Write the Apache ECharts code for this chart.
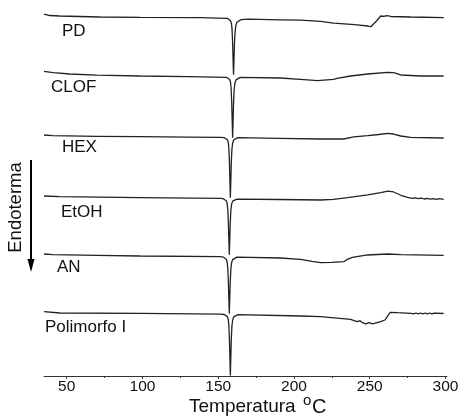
<!DOCTYPE html>
<html>
<head>
<meta charset="utf-8">
<script src="https://cdn.jsdelivr.net/npm/echarts@6/dist/echarts.min.js"></script>
<style>
html,body{margin:0;padding:0;background:#fff;}
#c{width:462px;height:418px;}
</style>
</head>
<body>
<div id="c"></div>
<script>
// ---- data (temperature °C, heat flow in arbitrary offset units) ----
const names = ['PD', 'CLOF', 'HEX', 'EtOH', 'AN', 'Polimorfo I'];
const majorTicks = [50, 100, 150, 200, 250, 300];
const minorTicks = [75, 125, 175, 225, 275];

const PD = [[35,60.33],[38.8,60.08],[45.4,60.0],[71.8,59.83],[98.3,59.78],[138,59.72],[156.1,59.62],[157.1,59.5],[158.1,59.2],[158.7,58.75],[159.1,57.85],[159.5,55.6],[159.8,52.6],[160.1,50.2],[160.4,52.5],[160.7,55.3],[161.1,57.3],[161.6,58.4],[162.3,58.95],[163.6,59.25],[165.1,59.4],[170,59.47],[191,59.36],[204.3,59.3],[217.6,59.12],[226.2,58.82],[240,58.55],[248.7,58.33],[250.7,58.22],[254,59.05],[257.3,60.0],[259.3,59.92],[261.3,60.05],[264,59.92],[277.2,59.83],[298.8,59.72]];
const CLOF = [[35,50.78],[41,50.55],[52,50.33],[70,50.15],[98.3,50.0],[130,49.9],[155.5,49.78],[156.5,49.68],[157.5,49.42],[158.1,48.95],[158.5,48.0],[158.9,45.6],[159.2,42.6],[159.5,39.7],[159.8,42.4],[160.1,45.4],[160.5,47.7],[161,48.8],[161.7,49.35],[163,49.65],[164.5,49.78],[191,49.67],[204.3,49.45],[215.5,49.22],[226,49.45],[228.5,49.6],[237.4,50.0],[248.6,50.33],[261.8,50.62],[265.8,50.55],[270.5,50.17],[283.7,50.0],[298.8,50.0]];
const HEX = [[35,40.17],[40.7,40.05],[70,39.95],[98.3,39.88],[130,39.82],[151.3,39.78],[154,39.72],[155,39.65],[156,39.4],[156.6,38.95],[157,38.0],[157.4,35.6],[157.7,32.6],[158,29.7],[158.3,32.4],[158.6,35.4],[159,37.7],[159.5,38.8],[160.2,39.35],[161.5,39.62],[163,39.72],[190,39.62],[217.6,39.5],[232.8,39.5],[239.4,39.85],[248.6,40.05],[256,40.25],[261.8,40.45],[265.8,40.33],[270.5,40.0],[277,39.78],[298.8,39.67]];
const EtOH = [[35,30.0],[45.4,29.88],[98.3,29.72],[151.3,29.62],[153.3,29.55],[154.3,29.45],[155.3,29.2],[155.9,28.75],[156.3,27.8],[156.7,25.5],[157,22.8],[157.3,20.2],[157.6,22.6],[157.9,25.3],[158.3,27.5],[158.8,28.6],[159.5,29.15],[160.8,29.38],[162.3,29.48],[190,29.42],[217.6,29.33],[226,29.45],[235.4,29.72],[248.6,30.17],[257.3,30.55],[261.9,30.83],[265.8,30.67],[270.5,30.12],[275,29.78],[278,29.6],[280,29.7],[282,29.55],[284,29.65],[286,29.5],[288,29.6],[290,29.48],[292,29.58],[294,29.45],[296,29.55],[298.8,29.45]];
const AN = [[35,20.33],[40.7,20.22],[70,20.1],[98.3,20.0],[151.3,19.88],[153.3,19.82],[154.3,19.72],[155.3,19.47],[155.9,19.0],[156.3,18.0],[156.7,15.7],[157,12.9],[157.3,10.4],[157.6,12.8],[157.9,15.5],[158.3,17.7],[158.8,18.85],[159.5,19.4],[160.8,19.7],[162.3,19.82],[191,19.67],[204.3,19.45],[212,19.1],[217.6,18.88],[225,18.95],[233,19.05],[235.2,19.45],[238.5,19.78],[248.6,20.17],[261.9,20.33],[270.5,20.22],[298.8,20.12]];
const POLI = [[35,10.72],[45.4,10.5],[98.3,10.45],[151.3,10.3],[154,10.25],[155,10.15],[156,9.9],[156.6,9.45],[157,8.5],[157.4,6.1],[157.7,3.1],[158,0.1],[158.3,2.9],[158.6,5.9],[159,8.2],[159.5,9.3],[160.2,9.85],[161.5,10.1],[163,10.22],[204.3,10.0],[217.6,9.88],[237.4,9.45],[239.6,9.22],[241.9,9.05],[243.6,9.22],[245.2,8.88],[247.4,8.67],[249.6,8.88],[251.8,8.67],[257.3,9.05],[260,9.33],[263.5,10.62],[268.4,10.55],[277.2,10.45],[279,10.35],[280.5,10.5],[282,10.35],[283.5,10.5],[285,10.35],[286.5,10.5],[288,10.35],[289.5,10.5],[291,10.35],[292.5,10.48],[298.8,10.42]];
const curves = [PD, CLOF, HEX, EtOH, AN, POLI];

// ---- layout / style ----
const labelPos = [[62,31],[51,87],[62,147],[61,212],[57,267],[45,327]];
const FONT = '"Liberation Sans", Arial, sans-serif';

const chart = echarts.init(document.getElementById('c'), null, {renderer: 'canvas'});

const graphics = names.map((n, i) => ({
  type: 'text', x: labelPos[i][0], y: labelPos[i][1],
  style: {text: n, font: '17px ' + FONT, fill: '#111', verticalAlign: 'middle', align: 'left'}
}));
graphics.push(
  {type: 'text', x: 189, y: 407, style: {text: 'Temperatura', font: '19px ' + FONT, fill: '#111', verticalAlign: 'middle', align: 'left'}},
  {type: 'text', x: 303, y: 400.5, style: {text: 'o', font: '15px ' + FONT, fill: '#111', verticalAlign: 'middle', align: 'left'}},
  {type: 'text', x: 312, y: 407, style: {text: 'C', font: '20px ' + FONT, fill: '#111', verticalAlign: 'middle', align: 'left'}},
  {type: 'text', x: 16, y: 207.5, rotation: Math.PI / 2, style: {text: 'Endoterma', font: '18.5px ' + FONT, fill: '#111', verticalAlign: 'middle', align: 'center'}},
  {type: 'line', shape: {x1: 31, y1: 160, x2: 31, y2: 261}, style: {stroke: '#000', lineWidth: 2}},
  {type: 'polygon', shape: {points: [[27.5, 259], [34.5, 259], [31, 272]]}, style: {fill: '#000'}}
);

const axisBase = {
  type: 'value', min: 35, max: 301, position: 'bottom',
  splitLine: {show: false}
};

chart.setOption({
  animation: false,
  backgroundColor: '#fff',
  grid: {left: 44, right: 15, top: 10, bottom: 42},
  xAxis: [
    Object.assign({}, axisBase, {
      axisLine: {show: true, lineStyle: {color: '#333', width: 1}},
      axisTick: {show: true, customValues: majorTicks, length: 3, lineStyle: {color: '#333'}},
      axisLabel: {customValues: majorTicks, fontSize: 15.5, color: '#111', margin: 3, fontFamily: FONT}
    }),
    Object.assign({}, axisBase, {
      axisLine: {show: false},
      axisTick: {show: true, customValues: minorTicks, length: 2, lineStyle: {color: '#333'}},
      axisLabel: {show: false}
    })
  ],
  yAxis: {type: 'value', min: 0, max: 61, show: false},
  graphic: graphics,
  series: curves.map((d, i) => ({
    name: names[i], type: 'line', data: d, xAxisIndex: 0,
    showSymbol: false, symbol: 'none', smooth: false,
    lineStyle: {color: '#222', width: 1.3}
  }))
});
</script>
</body>
</html>
